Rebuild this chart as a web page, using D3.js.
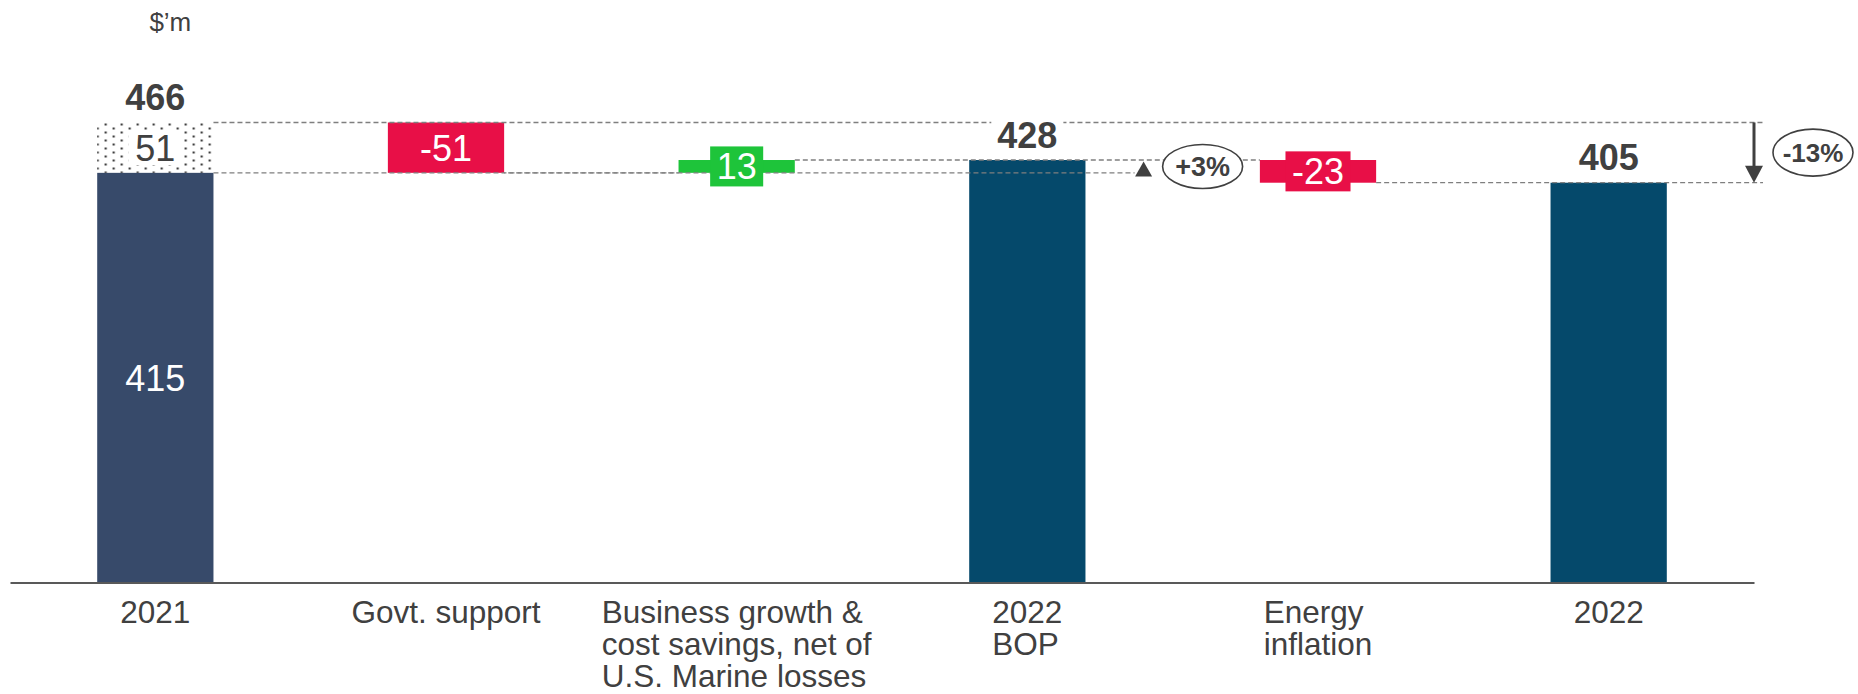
<!DOCTYPE html>
<html>
<head>
<meta charset="utf-8">
<script src="https://cdn.jsdelivr.net/npm/d3@7"></script>
<style>
  html, body { margin: 0; padding: 0; background: #fff; }
  svg { display: block; font-family: "Liberation Sans", Arial, Helvetica, sans-serif; }
</style>
</head>
<body>
<svg id="chart" width="1858" height="694"></svg>
<script>
// ---- Data ($'m) ----
const categories = ["2021", "Govt. support", "Business growth & cost savings, net of U.S. Marine losses", "2022 BOP", "Energy inflation", "2022"];
const categoryLines = [["2021"], ["Govt. support"], ["Business growth &", "cost savings, net of", "U.S. Marine losses"], ["2022", "BOP"], ["Energy", "inflation"], ["2022"]];
const barKinds = ["total", "delta", "delta", "total", "delta", "total"];
const barValues = [466, -51, 13, 428, -23, 405];
const underlying2021 = 415;   // 2021 excluding government support
const support2021 = 51;       // one-off government support in 2021
const changeLabels = ["+3%", "-13%"];
const unitLabel = "$\u2019m";

// ---- Styles ----
const COL = {
  base2021: "#374A6A",
  total: "#05496B",
  neg: "#E80F47",
  pos: "#1EC43A",
  text: "#404040",
  rule: "#7F7F7F",
  axis: "#595959"
};

const svg = d3.select("#chart");

const x = d3.scaleBand()
  .domain(categories)
  .range([10, 1754])
  .paddingInner(0.6)
  .paddingOuter(0.3);
const y = d3.scaleLinear().domain([0, 466]).range([582.5, 122.5]);
const bw = x.bandwidth();
const step = x.step();

// running totals for the waterfall
let running = 0;
const bars = categories.map((c, i) => {
  const v = barValues[i];
  if (barKinds[i] === "total") { running = v; return { c, i, kind: "total", from: 0, to: v, v }; }
  const from = running; running += v;
  return { c, i, kind: "delta", from, to: running, v };
});
const byName = Object.fromEntries(bars.map(b => [b.c, b]));

// dotted fill for the one-off 2021 support
const defs = svg.append("defs");
const pat = defs.append("pattern")
  .attr("id", "dots")
  .attr("patternUnits", "userSpaceOnUse")
  .attr("x", x("2021")).attr("y", y(466))
  .attr("width", 16).attr("height", 8);
[[7.5, 1], [-0.5, 5], [15.5, 5]].forEach(([dx, dy]) =>
  pat.append("rect").attr("x", dx).attr("y", dy).attr("width", 2).attr("height", 2).attr("fill", "#2a2a2a"));

// ---- Bars ----
const gBars = svg.append("g");
bars.forEach(b => {
  const bx = x(b.c);
  if (b.i === 0) {
    gBars.append("rect").attr("x", bx).attr("width", bw)
      .attr("y", y(underlying2021)).attr("height", y(0) - y(underlying2021))
      .attr("fill", COL.base2021);
    gBars.append("rect").attr("x", bx).attr("width", bw)
      .attr("y", y(underlying2021 + support2021)).attr("height", y(underlying2021) - y(underlying2021 + support2021))
      .attr("fill", "url(#dots)");
    return;
  }
  const top = y(Math.max(b.from, b.to)), bot = y(Math.min(b.from, b.to));
  gBars.append("rect").attr("x", bx).attr("width", bw)
    .attr("y", top).attr("height", bot - top)
    .attr("fill", b.kind === "total" ? COL.total : (b.v < 0 ? COL.neg : COL.pos));
});

// ---- Axis ----
const axis = svg.append("g")
  .attr("transform", `translate(0,${y(0)})`)
  .call(d3.axisBottom(x).tickSize(0).tickSizeOuter(0).tickFormat(""));
axis.select(".domain").attr("stroke", COL.axis).attr("stroke-width", 2.2);
axis.selectAll(".tick text").remove();

const catG = svg.append("g");
categories.forEach((c, i) => {
  const cx = x(c) + bw / 2;
  const t = catG.append("text")
    .attr("font-size", 31.5).attr("fill", COL.text)
    .attr("text-anchor", "start");
  const spans = categoryLines[i].map((line, k) =>
    t.append("tspan").attr("y", y(0) + 40 + k * 32).text(line));
  const maxW = d3.max(spans, s => s.node().getComputedTextLength());
  spans.forEach(s => s.attr("x", cx - maxW / 2));
});

// ---- Dashed reference lines ----
const arrowX = x.range()[1];
const upX = x("2022 BOP") + bw + 0.2 * step;
const gLines = svg.append("g")
  .attr("stroke", COL.rule).attr("stroke-width", 1.3)
  .attr("stroke-dasharray", "5,3").attr("fill", "none");
const dashed = [
  { x1: x("2021") + bw, x2: arrowX + 9, v: 466, off: 0 },
  { x1: x("2021") + bw, x2: upX - 9, v: underlying2021, off: 0 },
  { x1: x("Govt. support") + bw, x2: x(categories[2]), v: byName["Govt. support"].to, off: 4 },
  { x1: x(categories[2]) + bw, x2: x("Energy inflation"), v: byName[categories[2]].to, off: 0 },
  { x1: x("Energy inflation") + bw, x2: arrowX + 9, v: byName["Energy inflation"].to, off: 0 }
];
gLines.selectAll("line").data(dashed).join("line")
  .attr("x1", d => d.x1).attr("x2", d => d.x2)
  .attr("y1", d => y(d.v)).attr("y2", d => y(d.v))
  .attr("stroke-dashoffset", d => d.off);

// ---- Value labels ----
const gLab = svg.append("g");

// totals above bars, in bold on a white backdrop
bars.filter(b => b.kind === "total").forEach(b => {
  const cx = x(b.c) + bw / 2, base = y(b.to) - 12.5;
  const bg = gLab.append("rect").attr("fill", "#fff");
  const t = gLab.append("text").attr("x", cx).attr("y", base)
    .attr("text-anchor", "middle").attr("font-size", 36).attr("font-weight", "bold")
    .attr("fill", COL.text).text(b.v);
  const w = t.node().getComputedTextLength();
  bg.attr("x", cx - w / 2 - 6).attr("width", w + 12).attr("y", base - 29).attr("height", 33);
});

// 2021 split labels
{
  const cx = x("2021") + bw / 2;
  gLab.append("text").attr("x", cx).attr("y", (y(0) + y(underlying2021)) / 2)
    .attr("dy", "0.36em").attr("text-anchor", "middle").attr("font-size", 36)
    .attr("fill", "#fff").text(underlying2021);
  const my = (y(underlying2021) + y(underlying2021 + support2021)) / 2;
  const bg = gLab.append("rect").attr("fill", "#fff");
  const t = gLab.append("text").attr("x", cx).attr("y", my)
    .attr("dy", "0.36em").attr("text-anchor", "middle").attr("font-size", 36)
    .attr("fill", COL.text).text(support2021);
  const w = t.node().getComputedTextLength();
  bg.attr("x", cx - w / 2 - 7).attr("width", w + 14).attr("y", my - 17.5).attr("height", 35);
}

// deltas: white label inside the bar, on a tab of the bar colour when the bar is thin
bars.filter(b => b.kind === "delta").forEach(b => {
  const cx = x(b.c) + bw / 2, my = (y(b.from) + y(b.to)) / 2;
  const h = Math.abs(y(b.from) - y(b.to));
  const fill = b.v < 0 ? COL.neg : COL.pos;
  const bg = gLab.append("rect").attr("fill", fill);
  const t = gLab.append("text").attr("x", cx).attr("y", my)
    .attr("dy", "0.36em").attr("text-anchor", "middle").attr("font-size", 36)
    .attr("fill", "#fff").text(String(b.v));
  if (h < 44) {
    const w = t.node().getComputedTextLength();
    bg.attr("x", cx - w / 2 - 6.5).attr("width", w + 13).attr("y", my - 20).attr("height", 40);
  } else bg.remove();
});

// unit
gLab.append("text").attr("x", x("2021") + bw / 2 + 15).attr("y", 31)
  .attr("text-anchor", "middle").attr("font-size", 26).attr("fill", COL.text).text(unitLabel);

// ---- Change annotations ----
const gAnn = svg.append("g");
// +3% : 2021 underlying -> 2022 BOP
{
  const yTop = y(byName["2022 BOP"].v), yBot = y(underlying2021);
  gAnn.append("path")
    .attr("d", `M${upX},${yTop + 1.5} L${upX + 8.5},${yTop + 16.5} L${upX - 8.5},${yTop + 16.5} Z`)
    .attr("fill", COL.text);
  const ex = upX + 59, ey = (yTop + yBot) / 2;
  gAnn.append("ellipse").attr("cx", ex).attr("cy", ey).attr("rx", 40).attr("ry", 22)
    .attr("fill", "#fff").attr("stroke", COL.text).attr("stroke-width", 1.6);
  gAnn.append("text").attr("x", ex).attr("y", ey).attr("dy", "0.36em")
    .attr("text-anchor", "middle").attr("font-size", 27).attr("font-weight", "bold")
    .attr("fill", COL.text).text(changeLabels[0]);
}
// -13% : 2021 reported -> 2022
{
  const yTop = y(466), yBot = y(byName["2022"].v);
  gAnn.append("line").attr("x1", arrowX).attr("x2", arrowX)
    .attr("y1", yTop).attr("y2", yBot - 14)
    .attr("stroke", COL.text).attr("stroke-width", 3);
  gAnn.append("path")
    .attr("d", `M${arrowX - 9},${yBot - 17} L${arrowX + 9},${yBot - 17} L${arrowX},${yBot} Z`)
    .attr("fill", COL.text);
  const ex = arrowX + 59, ey = (yTop + yBot) / 2;
  gAnn.append("ellipse").attr("cx", ex).attr("cy", ey).attr("rx", 40).attr("ry", 23.5)
    .attr("fill", "#fff").attr("stroke", COL.text).attr("stroke-width", 1.6);
  gAnn.append("text").attr("x", ex).attr("y", ey).attr("dy", "0.36em")
    .attr("text-anchor", "middle").attr("font-size", 26).attr("font-weight", "bold")
    .attr("fill", COL.text).text(changeLabels[1]);
}
</script>
</body>
</html>
